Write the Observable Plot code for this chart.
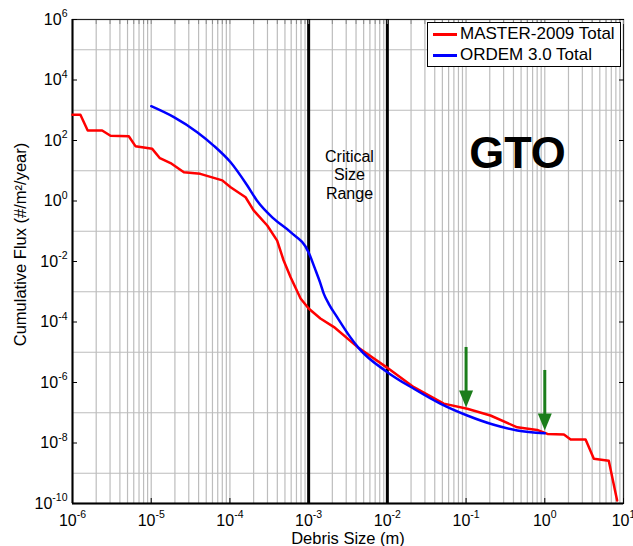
<!DOCTYPE html>
<html>
<head>
<meta charset="utf-8">
<script src="https://cdn.jsdelivr.net/npm/d3@7"></script>
<script src="https://cdn.jsdelivr.net/npm/@observablehq/plot@0.6"></script>
<style>
  html, body { margin: 0; padding: 0; background: #fff; }
  #wrap { position: relative; width: 633px; height: 546px; font-family: "Liberation Sans", Arial, sans-serif; }
  #legend { position: absolute; left: 427px; top: 22px; width: 192px; height: 43px; border: 1.5px solid #000; background: #fff; font-size: 17px; color: #000; }
  .row { position: absolute; left: 0; height: 20px; line-height: 20px; white-space: nowrap; }
  .sw { position: absolute; left: 5px; top: 9px; width: 24px; height: 2.5px; }
  .lab { position: absolute; left: 32px; top: 0; }
  svg g[aria-label$="tick label"] text { font-size: 16px; }
  svg g[aria-label$="tick label"] text tspan { font-size: 10.5px; }
</style>
</head>
<body>
<div id="wrap"></div>
<script>
// ---- data ----
const masterSize = [1e-6, 1.26e-6, 1.56e-6, 2.38e-6, 3.04e-6, 5.19e-6, 6.3e-6, 1.03e-5, 1.29e-5, 1.76e-5, 2.6e-5, 4.2e-5, 8e-5, 1.02e-4, 1.58e-4, 2.0e-4, 2.98e-4, 3.98e-4, 4.8e-4, 5.9e-4, 7.9e-4, 1.0e-3, 1.41e-3, 2.1e-3, 4.3e-3, 1.0e-2, 2.17e-2, 5.2e-2, 0.1035, 0.204, 0.447, 0.8, 1.08, 1.75, 2.13, 3.3, 4.2, 6.5, 8.3];
const masterFlux = [708, 708, 214, 214, 143, 138, 65, 53, 26, 18, 8.9, 7.9, 4.8, 2.85, 1.33, 0.49, 0.155, 0.049, 0.011, 0.003, 6e-4, 2.8e-4, 1.3e-4, 6.8e-5, 1.4e-5, 3.05e-6, 7e-7, 2e-7, 1.35e-7, 8.1e-8, 3.3e-8, 2.7e-8, 2e-8, 1.9e-8, 1.3e-8, 1.3e-8, 3e-9, 2.6e-9, 1.26e-10];
const ordemSize = [1e-5, 1.94e-5, 3.84e-5, 6.2e-5, 1.02e-4, 1.66e-4, 2.2e-4, 3.6e-4, 5.9e-4, 1e-3, 1.2e-3, 1.4e-3, 1.56e-3, 1.8e-3, 2.3e-3, 3.4e-3, 4.3e-3, 1e-2, 2.17e-2, 4.7e-2, 0.1035, 0.225, 0.447, 1.0];
const ordemFlux = [1360, 590, 188, 68, 19, 3.25, 1.04, 0.26, 0.093, 0.02, 5.9e-3, 2e-3, 8.5e-4, 4e-4, 1.45e-4, 3.1e-5, 1.4e-5, 2.2e-6, 6.2e-7, 2e-7, 8.1e-8, 4e-8, 2.6e-8, 2.1e-8];
const seriesNames = ["MASTER-2009 Total", "ORDEM 3.0 Total"];
const seriesColors = ["#ff0000", "#0000ff"];
const criticalSizes = [1e-3, 1e-2];
const arrowX = [0.1, 1];
const arrowFrom = [1.44e-5, 2.5e-6];
const arrowTip = [1.5e-7, 2.6e-8];
const xTickExp = [-6, -5, -4, -3, -2, -1, 0, 1];
const yTickExp = [-10, -8, -6, -4, -2, 0, 2, 4, 6];
const yGridExp = [-9, -7, -5, -3, -1, 1, 3, 5];
const gridMultipliers = [1, 2, 3, 4, 5, 6, 7, 8, 9];
const regionLabel = {text: "GTO", x: 0.45, y: 37};
const criticalLabel = {text: "Critical\nSize\nRange", x: 3.3e-3, y: 7.5};
const xLabel = "Debris Size (m)";
const yLabel = "Cumulative Flux (#/m²/year)";

// ---- derived tables ----
const master = masterSize.map((s, i) => ({size: s, flux: masterFlux[i]}));
const ordem = ordemSize.map((s, i) => ({size: s, flux: ordemFlux[i]}));
const xTicks = xTickExp.map(e => Math.pow(10, e));
const yTicks = yTickExp.map(e => Math.pow(10, e));
const xGrid = [];
xTickExp.slice(0, -1).forEach(e => gridMultipliers.forEach(m => xGrid.push(m * Math.pow(10, e))));
xGrid.push(10);
const yGrid = yGridExp.map(e => Math.pow(10, e));
const arrows = arrowX.map((x, i) => ({x, y1: arrowFrom[i], y2: arrowTip[i]}));
const fmt = d => "10^" + Math.round(Math.log10(d));

const green = "#1a7d1a";
const headSymbol = {
  draw(ctx) { ctx.moveTo(0, 0); ctx.lineTo(-7, -17); ctx.lineTo(7, -17); ctx.closePath(); }
};
const font = "'Liberation Sans', Arial, sans-serif";

const chart = Plot.plot({
  width: 633, height: 546,
  marginTop: 19, marginRight: 10, marginBottom: 43, marginLeft: 72,
  style: {fontFamily: font, fontSize: "15px", color: "#000", background: "#fff"},
  x: {type: "log", domain: [1e-6, 10]},
  y: {type: "log", domain: [1e-10, 1e6]},
  marks: [
    Plot.ruleX(xGrid, {stroke: "#bdbdbd", strokeWidth: 1.2}),
    Plot.ruleY(yGrid, {stroke: "#bdbdbd", strokeWidth: 1.2}),
    Plot.frame({stroke: "#222", strokeWidth: 1.2}),
    Plot.ruleX(criticalSizes, {stroke: "#000", strokeWidth: 3}),
    Plot.axisX({ticks: xTicks, tickFormat: fmt, tickSize: -5, tickPadding: 16, label: null}),
    Plot.axisY({ticks: yTicks, tickFormat: fmt, tickSize: -5, tickPadding: 10, label: null}),
    Plot.axisY({anchor: "right", ticks: yTicks, tickFormat: () => "", tickSize: -5, label: null}),
    Plot.axisX({anchor: "top", ticks: xGrid, tickFormat: () => "", tickSize: -4, label: null, stroke: "#888"}),
    Plot.ruleX([1e-6], {stroke: "#000", strokeWidth: 2}),
    Plot.ruleY([1e-10], {stroke: "#000", strokeWidth: 2}),
    Plot.line(master, {x: "size", y: "flux", stroke: seriesColors[0], strokeWidth: 2.5}),
    Plot.line(ordem, {x: "size", y: "flux", stroke: seriesColors[1], strokeWidth: 2.5, curve: "monotone-x"}),
    Plot.ruleX(arrows, {x: "x", y1: "y1", y2: "y2", stroke: green, strokeWidth: 3, insetBottom: 12}),
    Plot.dot(arrows, {x: "x", y: "y2", symbol: headSymbol, fill: green, stroke: "none"}),
    Plot.text([regionLabel], {x: "x", y: "y", text: "text", fontSize: 45, fontWeight: "bold", fill: "#000"}),
    Plot.text([criticalLabel], {x: "x", y: "y", text: "text", fontSize: 16, lineHeight: 1.15, fill: "#000"}),
    Plot.text([xLabel], {frameAnchor: "bottom", dy: 35, lineAnchor: "middle", textAnchor: "middle", text: d => d, fontSize: 16.5, fill: "#000"}),
    Plot.text([yLabel], {frameAnchor: "left", dx: -52, dy: -17, rotate: -90, textAnchor: "middle", lineAnchor: "middle", text: d => d, fontSize: 16.5, fill: "#000"})
  ]
});

// superscript exponents on tick labels
chart.querySelectorAll('g[aria-label$="tick label"] text').forEach(t => {
  const m = t.textContent.match(/^10\^(.*)$/);
  if (!m) return;
  t.textContent = "10";
  const ts = document.createElementNS("http://www.w3.org/2000/svg", "tspan");
  ts.setAttribute("dy", "-7.5");
  ts.textContent = m[1];
  t.appendChild(ts);
});

const wrap = document.getElementById("wrap");
wrap.appendChild(chart);

// legend
const legend = document.createElement("div");
legend.id = "legend";
seriesNames.forEach((name, i) => {
  const row = document.createElement("div");
  row.className = "row";
  row.style.top = (1 + i * 21) + "px";
  const sw = document.createElement("span");
  sw.className = "sw";
  sw.style.background = seriesColors[i];
  const lab = document.createElement("span");
  lab.className = "lab";
  lab.textContent = name;
  row.appendChild(sw); row.appendChild(lab);
  legend.appendChild(row);
});
wrap.appendChild(legend);
</script>
</body>
</html>
